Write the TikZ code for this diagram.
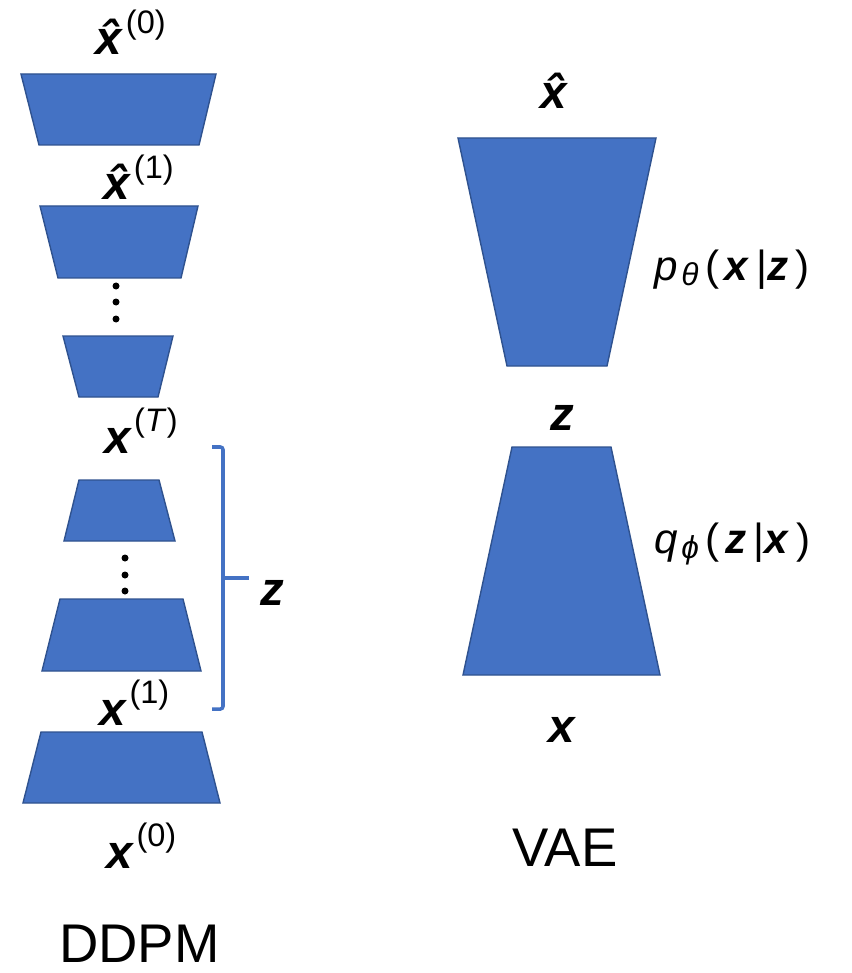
\documentclass[tikz,border=0pt]{standalone}
\usepackage{fontspec}
\setmainfont{Liberation Sans}
\definecolor{blockfill}{HTML}{4472C4}
\definecolor{blockline}{HTML}{2F528F}
\newcommand{\bx}{\textbf{\textit{x}}}
\newcommand{\bz}{\textbf{\textit{z}}}
\newcommand{\hx}{\textbf{\textit{\^{x}}}}
\newcommand{\upidx}[1]{\kern1pt\raisebox{12.5pt}{\fontsize{18.5pt}{18.5pt}\selectfont(#1)}}
\newcommand{\lowidx}[1]{\raisebox{-3pt}{\fontsize{18pt}{18pt}\selectfont\textit{#1}}}

\begin{document}
\begin{tikzpicture}[x=0.2mm,y=-0.2mm,
  block/.style={draw=blockline,fill=blockfill,line width=.8pt,line join=miter},
  brace/.style={draw=blockfill,line width=2pt,rounded corners=1.5pt},
  lbl/.style={inner sep=0pt,anchor=base,font=\fontsize{27pt}{32pt}\selectfont},
  eqn/.style={inner sep=0pt,anchor=base west,font=\fontsize{24pt}{28pt}\selectfont},
  title/.style={inner sep=0pt,anchor=base,font=\fontsize{31pt}{36pt}\selectfont}
]
\useasboundingbox (0,0) rectangle (851,973);
% DDPM
\draw[block] (21,74) -- (216,74) -- (199,145) -- (39,145) -- cycle;
\draw[block] (40,206) -- (198,206) -- (181,278) -- (58,278) -- cycle;
\draw[block] (63,336) -- (173,336) -- (158,397) -- (79,397) -- cycle;
\draw[block] (79,480) -- (159,480) -- (175,541) -- (64,541) -- cycle;
\draw[block] (60,599) -- (183,599) -- (201,671) -- (42,671) -- cycle;
\draw[block] (41,732) -- (202,732) -- (220,803) -- (23,803) -- cycle;
\fill (116,286) circle (3.5) (116,302) circle (3.5) (116,319) circle (3.5);
\fill (125,558) circle (3.5) (125,575) circle (3.5) (125,591) circle (3.5);
\node[lbl] (xhat0) at (130.5,55) {\hx\kern-4pt\upidx{0}};
\node[lbl] (xhat1) at (138.5,200) {\hx\kern-4pt\upidx{1}};
\node[lbl] (xT) at (141,453) {\bx\upidx{\textit{T}}};
\node[lbl] (x1) at (134.5,725) {\bx\upidx{1}};
\node[lbl] (x0) at (141.5,868) {\bx\upidx{0}};
\draw[brace] (212,447) -- (223,447) -- (223,709) -- (212,709);
\draw[brace] (223,578) -- (249,578);
\node[lbl] (zlab) at (272.5,605) {\bz};
\node[title] (ddpm) at (139.5,962) {DDPM};
% VAE
\draw[block] (458,138) -- (656,138) -- (607,366) -- (507,366) -- cycle;
\draw[block] (512,447) -- (611,447) -- (660,675) -- (463,675) -- cycle;
\node[lbl] (vxhat) at (558.5,109) {\hx};
\node[lbl] (vz) at (562.5,430) {\bz};
\node[lbl] (vx) at (562.5,742) {\bx};
\node[eqn] (pdec) at (654,280)
  {\textit{p}\kern2pt\lowidx{θ}\kern4pt(\kern3pt\bx\kern4pt|\bz\kern4pt)};
\node[eqn] (qenc) at (654,553)
  {\textit{q}\kern2pt\lowidx{ϕ}\kern4pt(\kern3pt\bz\kern4pt|\bx\kern4pt)};
\node[title] (vae) at (565,866) {VAE};
\end{tikzpicture}
\end{document}
